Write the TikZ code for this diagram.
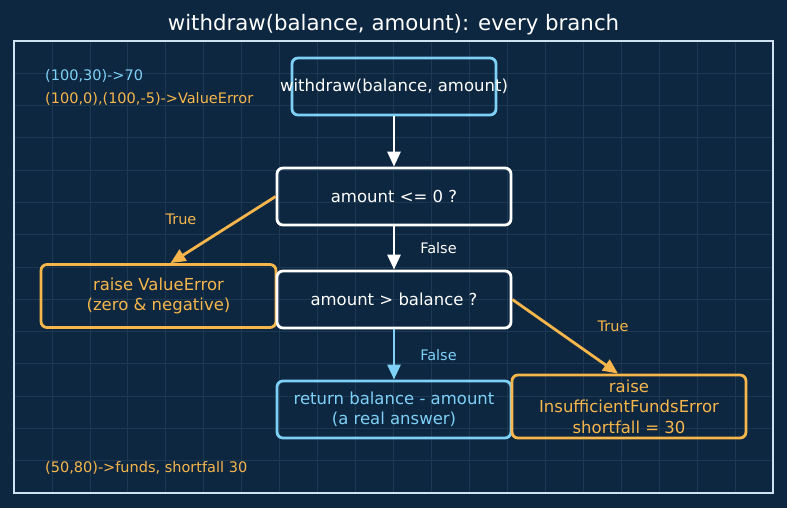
\documentclass[tikz,border=0pt]{standalone}
\usepackage{fontspec}
\setmainfont{DejaVu Sans}
\usetikzlibrary{arrows.meta,calc}
\definecolor{bgc}{HTML}{0D2740}
\definecolor{gridc}{HTML}{1C3852}
\definecolor{framec}{HTML}{CFE2F2}
\definecolor{orangec}{HTML}{F6B64C}
\definecolor{bluec}{HTML}{7FD0F7}
\tikzset{
  box/.style={draw, rounded corners=6pt, line width=2.8pt, inner sep=0pt, align=center,
    font=\fontsize{16.5}{20.5}\selectfont, minimum width=234pt, minimum height=57pt},
  conn/.style={line width=2.8pt, -{Triangle[length=15pt,width=13pt]}},
  lbl/.style={font=\fontsize{14.5}{17}\selectfont, anchor=base, inner sep=0pt},
  note/.style={font=\fontsize{14.5}{17}\selectfont, anchor=base west, inner sep=0pt},
}
\begin{document}
\begin{tikzpicture}[x=1pt,y=-1pt]
\fill[bgc] (0,0) rectangle (787,508);
\useasboundingbox (0,0) rectangle (787,508);
% grid
\foreach \k in {1,...,19} {\draw[gridc, line width=0.8pt] ({14+759/20*\k},41) -- ({14+759/20*\k},493);}
\foreach \k in {1,...,13} {\draw[gridc, line width=0.8pt] (14,{41+452/14*\k}) -- (773,{41+452/14*\k});}
\draw[framec, line width=2pt] (14,41) rectangle (773,493);
% title
\node[font=\fontsize{21.3}{25}\selectfont, text=white, anchor=base, inner sep=0pt] (title) at (393.5,31) {withdraw(balance, amount): every branch};
% notes
\node[note, text=bluec] (n1) at (45,81) {(100,30)->70};
\node[note, text=orangec] (n2) at (45,104) {(100,0),(100,-5)->ValueError};
\node[note, text=orangec] (n3) at (45,472) {(50,80)->funds, shortfall 30};
% nodes
\node[box, draw=bluec, text=white, minimum width=204pt] (start) at (394,86.5) {\makebox[0pt][c]{withdraw(balance, amount)}};
\node[box, draw=white, text=white] (q1) at (394,196.5) {amount <= 0 ?};
\node[box, draw=orangec, text=orangec, minimum width=235pt, minimum height=63pt] (rv) at (158.5,296) {raise ValueError\\(zero \& negative)};
\node[box, draw=white, text=white] (q2) at (394,299.5) {amount > balance ?};
\node[box, draw=bluec, text=bluec] (ret) at (394,409.5) {return balance - amount\\(a real answer)};
\node[box, draw=orangec, text=orangec, minimum height=63pt] (ins) at (629,406.5) {raise\\InsufficientFundsError\\shortfall = 30};
% connectors
\draw[conn, white] (start) -- (q1);
\draw[conn, white] (q1) -- (q2);
\draw[conn, orangec] (q1.west) -- ($(rv.north)+(12,0)$);
\draw[conn, orangec] (q2.east) -- ($(ins.north)+(-11,0)$);
\draw[conn, bluec] (q2) -- (ret);
% labels
\node[lbl, text=orangec] (t1) at (181,224) {True};
\node[lbl, text=white] (f1) at (438.5,253) {False};
\node[lbl, text=orangec] (t2) at (613,331) {True};
\node[lbl, text=bluec] (f2) at (438.5,360) {False};
\end{tikzpicture}
\end{document}
